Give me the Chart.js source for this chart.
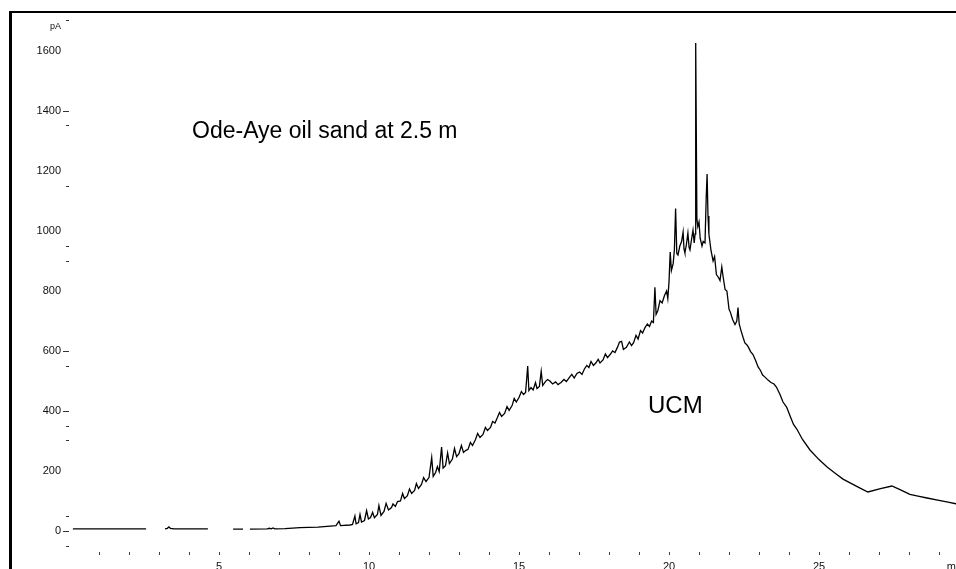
<!DOCTYPE html>
<html>
<head>
<meta charset="utf-8">
<script src="https://cdn.jsdelivr.net/npm/chart.js@4.4.1/dist/chart.umd.min.js"></script>
<style>
    html, body { margin: 0; padding: 0; background: #fff; overflow: hidden; width: 956px; height: 569px; }
    #frame { position: absolute; left: 9px; top: 11px; width: 1000px; height: 600px; border-top: 2px solid #000; border-left: 3px solid #000; }
    #chromatogram { position: absolute; left: 0; top: 0; width: 975px; height: 585px; }
</style>
</head>
<body>
<div id="frame"></div>
<canvas id="chromatogram" width="975" height="585"></canvas>
<script>
// retention time (min) and detector signal (pA); null = gap in the printed line
const retentionTime = [
    0.13, 0.8, 1.6, 2.57, 2.6, 3.2, 3.28, 3.33, 3.38, 3.5, 4.63, 4.66, 5.47, 5.8, 5.84,
    6.03, 6.6, 6.68, 6.74, 6.8, 6.86, 7.2, 7.7, 8.3, 8.9, 9.0, 9.05, 9.37,
    9.45, 9.53, 9.57, 9.65, 9.7, 9.75, 9.85, 9.92, 9.98, 10.05, 10.12, 10.18, 10.28, 10.33,
    10.4, 10.5, 10.57, 10.65, 10.75, 10.8, 10.88, 10.95, 11.05, 11.12, 11.18, 11.28, 11.35,
    11.42, 11.52, 11.58, 11.65, 11.75, 11.82, 11.9, 12.0, 12.09, 12.14, 12.22, 12.28, 12.34,
    12.42, 12.47, 12.55, 12.62, 12.68, 12.78, 12.85, 12.92, 13.0, 13.08, 13.15, 13.22, 13.3,
    13.38, 13.45, 13.55, 13.62, 13.7, 13.8, 13.88, 13.95, 14.05, 14.12, 14.2, 14.28, 14.35,
    14.42, 14.52, 14.6, 14.67, 14.77, 14.84, 14.91, 15.0, 15.08, 15.15, 15.22, 15.29, 15.33,
    15.4, 15.47, 15.55, 15.6, 15.68, 15.74, 15.79, 15.88, 15.95, 16.03, 16.12, 16.22, 16.3,
    16.4, 16.5, 16.58, 16.68, 16.76, 16.84, 16.93, 17.02, 17.1, 17.18, 17.26, 17.33, 17.4,
    17.48, 17.56, 17.64, 17.7, 17.8, 17.88, 17.95, 18.05, 18.12, 18.2, 18.28, 18.35, 18.42,
    18.48, 18.58, 18.68, 18.75, 18.82, 18.9, 18.97, 19.05, 19.12, 19.2, 19.28, 19.35, 19.42,
    19.48, 19.53, 19.57, 19.63, 19.7, 19.77, 19.85, 19.92, 19.96, 20.0, 20.04, 20.08, 20.14,
    20.18, 20.22, 20.26, 20.3, 20.36, 20.42, 20.47, 20.5, 20.53, 20.58, 20.63, 20.67, 20.7,
    20.74, 20.8, 20.84, 20.87, 20.89, 20.93, 20.96, 21.0, 21.04, 21.1, 21.14, 21.2, 21.24,
    21.27, 21.3, 21.33, 21.4, 21.47, 21.52, 21.58, 21.65, 21.7, 21.76, 21.8, 21.87, 21.93,
    22.0, 22.05, 22.12, 22.2, 22.26, 22.3, 22.34, 22.4, 22.47, 22.53, 22.6, 22.65, 22.72,
    22.8, 22.88, 22.97, 23.05, 23.12, 23.2, 23.3, 23.4, 23.5, 23.58, 23.7, 23.8, 23.92,
    24.05, 24.15, 24.26, 24.45, 24.7, 25.0, 25.27, 25.55, 25.8, 26.1, 26.37, 26.63, 27.05,
    27.43, 27.7, 28.03, 28.3, 28.6, 29.0, 29.3, 29.6
];
const signal = [
    7, 7, 7, 7, null, 7, 9, 14, 9, 7, 7, null, 6, 6, null,
    6, 7, 9, 7, 10, 7, 8, 11, 13, 18, 33, 18, 20,
    22, 50, 24, 28, 55, 30, 35, 68, 40, 45, 62, 44, 55, 85,
    52, 65, 92, 70, 78, 90, 82, 98, 100, 125, 108, 118, 140,
    125, 135, 158, 142, 155, 178, 165, 178, 245, 182, 195, 215, 198,
    280, 210, 218, 260, 225, 240, 275, 248, 258, 285, 262, 268, 272,
    295, 285, 305, 325, 312, 322, 345, 335, 345, 365, 360, 378, 395,
    382, 392, 415, 402, 418, 442, 430, 445, 465, 455, 462, 550, 468,
    478, 470, 495, 475, 482, 532, 485, 498, 505, 500, 490, 497, 488,
    495, 505, 498, 512, 522, 510, 525, 530, 522, 540, 552, 545, 565,
    552, 560, 572, 560, 570, 590, 578, 590, 600, 595, 612, 630, 632,
    605, 612, 630, 618, 628, 652, 640, 668, 660, 678, 690, 682, 700,
    695, 812, 722, 735, 768, 760, 785, 800, 775, 830, 930, 868, 892,
    938, 1075, 925, 920, 950, 965, 997, 940, 927, 955, 993, 945, 937,
    965, 1003, 960, 990, 1627, 1040, 1015, 1030, 975, 950, 965, 960, 1110,
    1190, 1050, 990, 935, 900, 915, 855, 845, 835, 880, 850, 805, 800,
    740, 728, 705, 688, 700, 745, 690, 668, 645, 627, 620, 612, 598,
    588, 570, 547, 535, 520, 513, 503, 495, 490, 480, 455, 430, 413,
    380, 355, 340, 305, 270, 238, 213, 192, 173, 157, 143, 130, 141,
    150, 138, 122, 116, 110, 102, 96, 90
];

// axis tick sets
const yLabelTicks = [0, 200, 400, 600, 800, 1000, 1200, 1400, 1600];
const yDashTicks = [0, 400, 600, 1400];
const yMinorTicks = [-50, 50, 300, 350, 550, 900, 950, 1150, 1350, 1700];
const yUnitTick = 1680;
const xMinuteTicks = [1, 2, 3, 4, 5, 6, 7, 8, 9, 10, 11, 12, 13, 14, 15, 16, 17, 18, 19, 20, 21, 22, 23, 24, 25, 26, 27, 28, 29, 30];
const xLabelTicks = [5, 10, 15, 20, 25];
const xUnitTick = 29.55;

const sampleTitle = 'Ode-Aye oil sand at 2.5 m';
const humpLabel = 'UCM';

const FONT = '"Liberation Sans", Arial, sans-serif';

const textPlugin = {
    id: 'chartText',
    afterDatasetsDraw(chart) {
        const { ctx, scales } = chart;
        ctx.save();
        ctx.fillStyle = '#000';
        ctx.textAlign = 'left';
        ctx.textBaseline = 'alphabetic';
        ctx.font = '23px ' + FONT;
        ctx.fillText(sampleTitle, scales.x.getPixelForValue(4.1), scales.y.getPixelForValue(1310));
        ctx.font = '24px ' + FONT;
        ctx.fillText(humpLabel, scales.x.getPixelForValue(19.3), scales.y.getPixelForValue(393));
        ctx.restore();
    }
};

const ctx = document.getElementById('chromatogram').getContext('2d');

new Chart(ctx, {
    type: 'line',
    data: {
        datasets: [{
            data: retentionTime.map((t, i) => ({ x: t, y: signal[i] })),
            borderColor: '#000',
            borderWidth: 1.3,
            pointRadius: 0,
            tension: 0,
            spanGaps: false,
            fill: false,
        }]
    },
    options: {
        responsive: false,
        animation: false,
        devicePixelRatio: 1,
        layout: { padding: { left: 0, top: 15, right: 6, bottom: 0 } },
        plugins: {
            legend: { display: false },
            tooltip: { enabled: false },
        },
        scales: {
            x: {
                type: 'linear',
                min: 0,
                max: 30,
                border: { display: false },
                grid: {
                    drawOnChartArea: false,
                    drawTicks: true,
                    tickLength: 3,
                    tickColor: (c) => (c.tick && c.tick.value === xUnitTick ? 'rgba(0,0,0,0)' : '#444'),
                },
                afterBuildTicks: (scale) => {
                    scale.ticks = xMinuteTicks.concat([xUnitTick]).sort((a, b) => a - b).map(v => ({ value: v }));
                },
                afterFit: (scale) => { scale.height = 33; },
                ticks: {
                    autoSkip: false,
                    maxRotation: 0,
                    padding: 5,
                    color: '#111',
                    font: { family: FONT, size: 11 },
                    callback: (value) => {
                        if (xLabelTicks.includes(value)) return String(value);
                        if (value === xUnitTick) return 'min';
                        return '';
                    },
                },
            },
            y: {
                type: 'linear',
                min: -70,
                max: 1720,
                border: { display: false },
                grid: {
                    drawOnChartArea: false,
                    drawTicks: true,
                    tickLength: 6,
                    tickColor: (c) => {
                        const v = c.tick ? c.tick.value : null;
                        return (yDashTicks.includes(v) || yMinorTicks.includes(v)) ? '#333' : 'rgba(0,0,0,0)';
                    },
                    tickBorderDash: (c) => (c.tick && yMinorTicks.includes(c.tick.value) ? [0, 3, 3, 0] : []),
                },
                afterBuildTicks: (scale) => {
                    const vals = yLabelTicks.concat(yMinorTicks, [yUnitTick]);
                    scale.ticks = vals.sort((a, b) => a - b).map(v => ({ value: v }));
                },
                afterFit: (scale) => { scale.width = 69; },
                ticks: {
                    autoSkip: false,
                    padding: 2,
                    color: '#111',
                    font: (c) => ({ family: FONT, size: c.tick && c.tick.value === yUnitTick ? 9 : 11 }),
                    callback: (value) => {
                        if (yLabelTicks.includes(value)) return String(value);
                        if (value === yUnitTick) return 'pA';
                        return '';
                    },
                },
            },
        },
    },
    plugins: [textPlugin],
});
</script>
</body>
</html>
